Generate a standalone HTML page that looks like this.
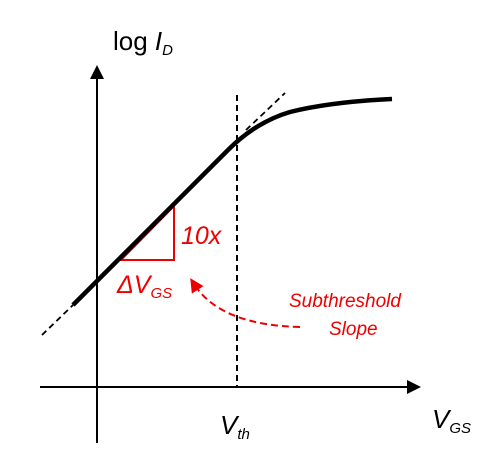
<!DOCTYPE html>
<html><head><meta charset="utf-8"><style>body{margin:0;background:#fff}svg{display:block}text{font-family:"Liberation Sans","DejaVu Sans",sans-serif}</style></head>
<body>
<svg width="498" height="453" viewBox="0 0 498 453">
<defs>
<marker id="ah" markerWidth="14" markerHeight="14" refX="12" refY="7" orient="auto" markerUnits="userSpaceOnUse"><path d="M0,0 L14,7 L0,14 z" fill="#000"/></marker>
<marker id="rh" markerWidth="14" markerHeight="14" refX="7" refY="7" orient="auto" markerUnits="userSpaceOnUse"><path d="M0,0 L14,7 L0,14 z" fill="#e00"/></marker>
</defs>
<line x1="97" y1="443" x2="97" y2="67" stroke="#000" stroke-width="2" marker-end="url(#ah)"/>
<line x1="40" y1="387" x2="419" y2="387" stroke="#000" stroke-width="2" marker-end="url(#ah)"/>
<text x="113" y="50" font-size="26">log <tspan font-style="italic">I</tspan><tspan font-style="italic" font-size="15" dy="5">D</tspan></text>
<text x="432" y="428" font-size="26" font-style="italic">V<tspan font-size="15" dy="5">GS</tspan></text>
<text x="220" y="434" font-size="26" font-style="italic">V<tspan font-size="15" dy="5">th</tspan></text>
<line x1="237" y1="95" x2="237" y2="387" stroke="#000" stroke-width="2" stroke-dasharray="6,4"/>
<line x1="42" y1="335" x2="73" y2="305" stroke="#000" stroke-width="1.8" stroke-dasharray="6,4"/>
<line x1="246" y1="130" x2="285" y2="93" stroke="#000" stroke-width="1.8" stroke-dasharray="6,4"/>
<path d="M121 260 L174 260 L174 206 Z" fill="none" stroke="#e00" stroke-width="2"/>
<path d="M73 305 L228 150 Q256 122 290 112 Q330 102 392 99" fill="none" stroke="#000" stroke-width="4.5"/>
<text x="181" y="244" font-size="25" font-style="italic" fill="#e00">10x</text>
<text x="117" y="293" font-size="25" font-style="italic" fill="#e00">ΔV<tspan font-size="15" dy="5">GS</tspan></text>
<path d="M300 327 Q220 325 194 284" fill="none" stroke="#e00" stroke-width="2" stroke-dasharray="7,4" marker-end="url(#rh)"/>
<text x="289" y="307" font-size="19" font-style="italic" fill="#e00">Subthreshold</text>
<text x="329" y="335" font-size="19" font-style="italic" fill="#e00">Slope</text>
</svg>
</body></html>
